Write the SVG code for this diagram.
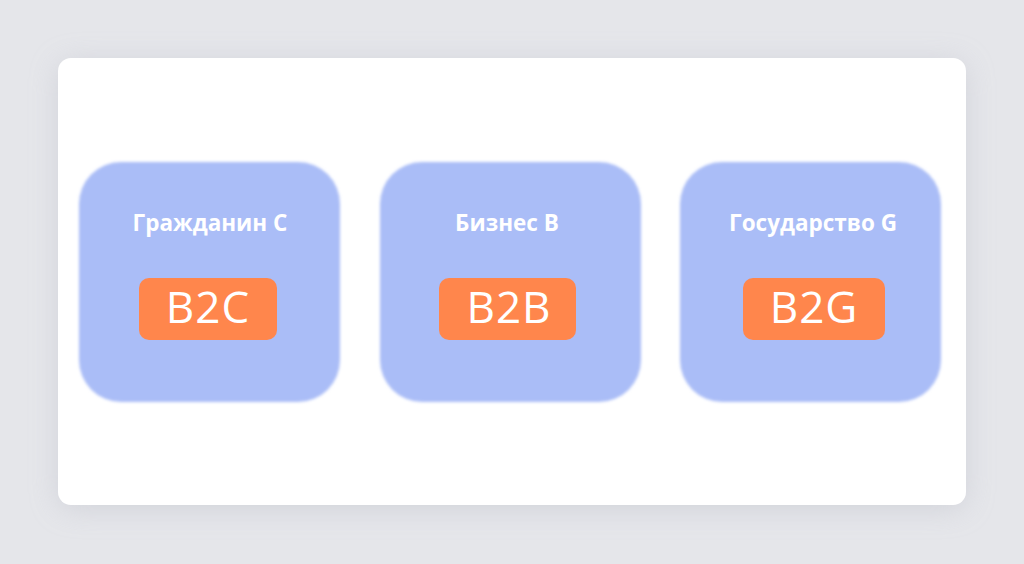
<svg xmlns="http://www.w3.org/2000/svg" width="1024" height="564" viewBox="0 0 1024 564">
<defs>
<filter id="shadow" x="-10%" y="-10%" width="120%" height="120%">
<feGaussianBlur stdDeviation="14"/>
</filter>
<filter id="soft" x="-10%" y="-10%" width="120%" height="120%">
<feGaussianBlur stdDeviation="1.8"/>
</filter>
<style>
.box{fill:#aabdf7;filter:url(#soft)}
.title{font-family:"Open Sans","Liberation Sans",sans-serif;font-weight:700;font-size:22.5px;fill:#ffffff;text-anchor:middle}
.badge{fill:#ff864c}
.code{font-family:"Open Sans","Liberation Sans",sans-serif;font-size:44px;letter-spacing:1px;fill:#ffffff;text-anchor:middle}
</style>
</defs>
<rect width="1024" height="564" fill="#e5e6ea"/>
<rect x="58" y="62" width="908" height="447" rx="14" fill="#c9cbd3" filter="url(#shadow)" opacity="0.7"/>
<rect id="card" x="58" y="58" width="908" height="447" rx="13" fill="#ffffff"/>
<g id="connectors"></g>
<g id="node-c">
<rect class="box" x="79" y="162" width="261" height="240" rx="42"/>
<text class="title" x="210" y="231">Гражданин C</text>
<rect class="badge" x="139" y="278" width="138" height="62" rx="10"/>
<text class="code" x="208" y="323">B2C</text>
</g>
<g id="node-b">
<rect class="box" x="380" y="162" width="261" height="240" rx="42"/>
<text class="title" x="507" y="231">Бизнес B</text>
<rect class="badge" x="439" y="278" width="137" height="62" rx="10"/>
<text class="code" x="509" y="323">B2B</text>
</g>
<g id="node-g">
<rect class="box" x="680" y="162" width="261" height="240" rx="42"/>
<text class="title" x="813" y="231">Государство G</text>
<rect class="badge" x="743" y="278" width="142" height="62" rx="10"/>
<text class="code" x="814" y="323">B2G</text>
</g>
</svg>
